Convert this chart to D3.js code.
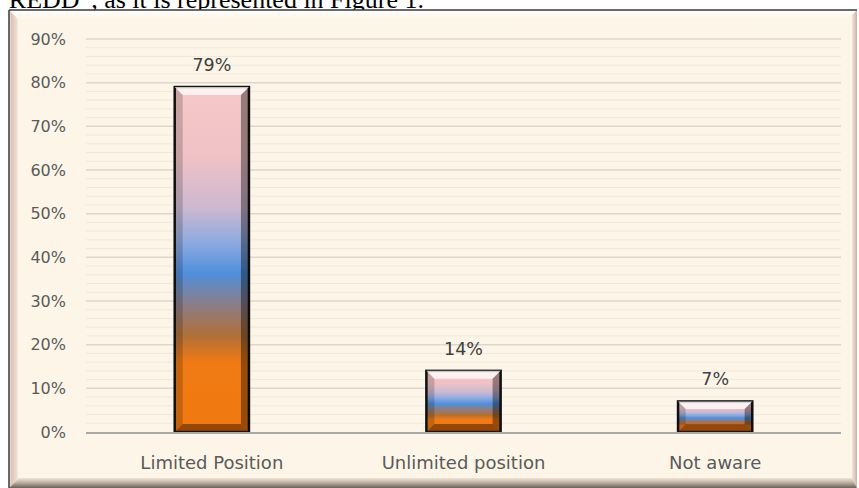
<!DOCTYPE html>
<html><head><meta charset="utf-8">
<script src="https://cdn.jsdelivr.net/npm/d3@7"></script>
<style>html,body{margin:0;padding:0;background:#fff;}svg{display:block;}</style>
</head><body>
<svg id="c" width="859" height="488"></svg>
<script>
const categories = ["Limited Position", "Unlimited position", "Not aware"];
const values = [79, 14, 7];
const valueLabels = ["79%", "14%", "7%"];
const tickValues = [0, 10, 20, 30, 40, 50, 60, 70, 80, 90];
const tickLabels = ["0%", "10%", "20%", "30%", "40%", "50%", "60%", "70%", "80%", "90%"];
const minorTicks = d3.range(0, 91, 2);
const caption = "REDD\u201d, as it is represented in Figure 1.";

const svg = d3.select("#c");
const defs = svg.append("defs");

// caption text (cropped at top as in the reference)
svg.append("text").attr("x", 424).attr("y", 8).attr("text-anchor", "end")
  .attr("font-family", "Liberation Serif").attr("font-size", 26).attr("fill", "#000").text(caption);

// frame
const fx0 = 9, fy0 = 10, fx1 = 857, fy1 = 488, bw = 9;
svg.append("rect").attr("x", fx0).attr("y", fy0).attr("width", fx1 - fx0).attr("height", fy1 - fy0).attr("fill", "#fdf6e8");
function lg(id, x1, y1, x2, y2, stops) {
  const g = defs.append("linearGradient").attr("id", id).attr("x1", x1).attr("y1", y1).attr("x2", x2).attr("y2", y2);
  stops.forEach(s => g.append("stop").attr("offset", s[0]).attr("stop-color", s[1]));
}
lg("fTop", 0, 0, 0, 1, [[0, "#ffffff"], [1, "#fdf6e8"]]);
lg("fLeft", 0, 0, 1, 0, [[0, "#f5ebe2"], [0.3, "#dcc4b6"], [1, "#f3e6da"]]);
lg("fRight", 0, 0, 1, 0, [[0, "#f3e6da"], [1, "#c9b4a5"]]);
lg("fBot", 0, 0, 0, 1, [[0, "#efe4d6"], [0.4, "#c8b8aa"], [1, "#6a625b"]]);
const poly = (pts, fill) => svg.append("polygon").attr("points", pts.map(p => p.join(",")).join(" ")).attr("fill", fill);
poly([[fx0, fy0], [fx1, fy0], [fx1 - bw, fy0 + bw], [fx0 + bw, fy0 + bw]], "url(#fTop)");
poly([[fx0, fy0], [fx0 + bw, fy0 + bw], [fx0 + bw, fy1 - bw], [fx0, fy1]], "url(#fLeft)");
poly([[fx1, fy0], [fx1 - 5, fy0 + 5], [fx1 - 5, fy1 - 10], [fx1, fy1]], "url(#fRight)");
poly([[fx0, fy1], [fx0 + 10, fy1 - 10], [fx1 - 5, fy1 - 10], [fx1, fy1]], "url(#fBot)");
svg.append("line").attr("x1", fx0).attr("y1", fy0).attr("x2", fx1).attr("y2", fy0).attr("stroke", "#3a3a3a").attr("stroke-width", 1.5);
svg.append("line").attr("x1", fx0).attr("y1", fy0).attr("x2", fx0).attr("y2", fy1).attr("stroke", "#3a3a3a").attr("stroke-width", 1.5);

// scales
const x = d3.scaleBand().domain(categories).range([86, 841]).paddingInner(0.705).paddingOuter(0.3525);
const y = d3.scaleLinear().domain([0, 90]).range([432, 39]);

// minor gridlines
svg.append("g").selectAll("line").data(minorTicks.filter(v => v % 10 !== 0)).join("line")
  .attr("x1", 86).attr("x2", 841).attr("y1", d => y(d)).attr("y2", d => y(d))
  .attr("stroke", "#efe8dc").attr("stroke-width", 1);
// major gridlines
svg.append("g").selectAll("line").data(tickValues.filter(v => v > 0)).join("line")
  .attr("x1", 86).attr("x2", 841).attr("y1", d => y(d)).attr("y2", d => y(d))
  .attr("stroke", "#ddd7cd").attr("stroke-width", 1.5);

// y axis labels
const yAxis = d3.axisLeft(y).tickValues(tickValues).tickFormat((d, i) => tickLabels[i]).tickSize(0).tickPadding(20);
const ya = svg.append("g").attr("transform", "translate(86,0)").call(yAxis);
ya.select(".domain").remove();
ya.selectAll("text").attr("font-family", "DejaVu Sans").attr("font-size", 16).attr("fill", "#5a5a5a");

// bar gradient
lg("barG", 0, 0, 0, 1, [
  [0, "#f6c8c8"], [0.2, "#f0c2c6"], [0.35, "#cdb8d0"], [0.45, "#8eaae0"], [0.54, "#4f8fdc"],
  [0.63, "#8a7d88"], [0.72, "#b0703a"], [0.8, "#f07a14"], [1, "#f0780f"]]);

const bars = svg.append("g");
categories.forEach((c, i) => {
  const x0 = x(c), x1 = x(c) + x.bandwidth();
  const y0 = y(values[i]), y1 = y(0);
  const h = y1 - y0;
  const b = Math.min(8, h / 4);
  bars.append("rect").attr("x", x0).attr("y", y0).attr("width", x1 - x0).attr("height", h).attr("fill", "url(#barG)");
  poly([[x0, y0], [x1, y0], [x1 - b, y0 + b], [x0 + b, y0 + b]], "rgba(255,255,255,0.75)");
  poly([[x0, y0], [x0 + b, y0 + b], [x0 + b, y1 - b], [x0, y1]], "rgba(0,0,0,0.18)");
  poly([[x1, y0], [x1 - b, y0 + b], [x1 - b, y1 - b], [x1, y1]], "rgba(0,0,0,0.38)");
  poly([[x0, y1], [x0 + b, y1 - b], [x1 - b, y1 - b], [x1, y1]], "rgba(60,20,0,0.5)");
  bars.append("rect").attr("x", x0).attr("y", y0).attr("width", x1 - x0).attr("height", h)
    .attr("fill", "none").attr("stroke", "#111").attr("stroke-width", 2.5);
  svg.append("text").attr("x", (x0 + x1) / 2).attr("y", y0 - 16).attr("text-anchor", "middle")
    .attr("font-family", "DejaVu Sans").attr("font-size", 17.5).attr("fill", "#404040").text(valueLabels[i]);
});

// baseline axis
svg.append("line").attr("x1", 86).attr("x2", 841).attr("y1", y(0) + 1).attr("y2", y(0) + 1)
  .attr("stroke", "#a8a8a8").attr("stroke-width", 2);

// x axis labels
const xAxis = d3.axisBottom(x).tickSize(0).tickPadding(24);
const xa = svg.append("g").attr("transform", `translate(0,${y(0)})`).call(xAxis);
xa.select(".domain").remove();
xa.selectAll("text").attr("font-family", "DejaVu Sans").attr("font-size", 18).attr("fill", "#5a5a5a");
</script>
</body></html>
